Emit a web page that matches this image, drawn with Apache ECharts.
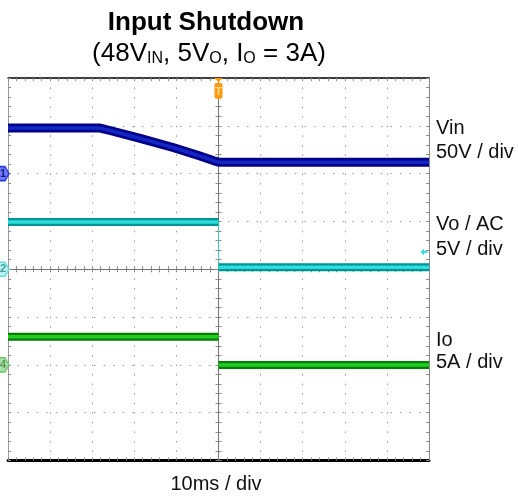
<!DOCTYPE html>
<html><head><meta charset="utf-8">
<script src="https://cdn.jsdelivr.net/npm/echarts@6/dist/echarts.min.js"></script>
<style>html,body{margin:0;padding:0;background:#fff}#c{width:518px;height:498px}</style>
</head><body><div id="c"></div>
<script>
// ---- data (time in ms, 10 ms/div, trigger at 0) ----
const vinTime  = [-50, -28.1, -25.8, -18.6, -10.8, -4.4, -1.1, 0, 50];
const vinVolts = [47.6, 47.6, 45.1, 36.8, 27.3, 18.4, 13.5, 12.0, 12.0];
const voTime   = [-50, 0, 0, 50];
const voVolts  = [4.95, 4.95, 0.2, 0.2];
const ioTime   = [-50, 0, 0, 50];
const ioAmps   = [2.95, 2.95, 0.0, 0.0];
const voTrigLevel = 1.8;
// channel scale (units/div) and ground position (div from centre)
const vinScale = 50, voScale = 5, ioScale = 5;
const vinOffset = 2, voOffset = 0, ioOffset = -2;
const titleText = 'Input Shutdown';
const rightLabels = ['Vin', '50V / div', 'Vo / AC', '5V / div', 'Io', '5A / div'];
const xLabel = '10ms / div';

const FONT = '"Liberation Sans", Arial, Helvetica, sans-serif';

function toDiv(t, v, scale, off, gapAtSteps) {
  const out = [];
  for (let i = 0; i < t.length; i++) {
    if (gapAtSteps && i > 0 && t[i] === t[i - 1]) out.push([t[i], '-']);
    out.push([t[i], off + v[i] / scale]);
  }
  return out;
}
function stepSegment(t, v, scale, off) {
  for (let i = 1; i < t.length; i++) if (t[i] === t[i - 1]) return [[t[i - 1], off + v[i - 1] / scale], [t[i], off + v[i] / scale]];
  return [];
}
const vinData = toDiv(vinTime, vinVolts, vinScale, vinOffset, false);
const voData = toDiv(voTime, voVolts, voScale, voOffset, true);
const ioData = toDiv(ioTime, ioAmps, ioScale, ioOffset, true);
const voStep = stepSegment(voTime, voVolts, voScale, voOffset);

const hidden = {axisLabel: {show: false}, splitLine: {show: false}, axisTick: {show: false}, minorTick: {show: false}, axisLine: {show: false}};
function xAx(extra) { return Object.assign({type: 'value', min: -50, max: 50, interval: 10}, JSON.parse(JSON.stringify(hidden)), extra); }
function yAx(extra) { return Object.assign({type: 'value', min: -4, max: 4, interval: 1}, JSON.parse(JSON.stringify(hidden)), extra); }
const tickGray = '#8a8a8a';
const ticks = (inside) => ({show: true, inside: inside, length: 3, lineStyle: {color: tickGray, width: 1}});
const minor = {show: true, splitNumber: 5, length: 3, lineStyle: {color: tickGray, width: 1}};

const chanMarker = (y, fill, border, txt, tc) => ({
  symbol: 'path://M0,1 Q0,0 1,0 L8,0 L12,7 L8,14 L1,14 Q0,14 0,13 Z', symbolSize: [12, 14], symbolOffset: [-5, 0],
  coord: [-50, y], itemStyle: {color: fill, borderColor: border, borderWidth: 1.5},
  label: {show: true, formatter: txt, color: tc, fontSize: 11, fontWeight: 'bold', fontFamily: FONT, offset: [0, 0]}
});

const option = {
  animation: false,
  backgroundColor: '#fff',
  grid: {left: 8, right: 89, top: 78, bottom: 37.5, containLabel: false},
  xAxis: [
    xAx({position: 'bottom', axisLine: {show: true, onZero: false, lineStyle: {color: '#000', width: 3}}, axisTick: ticks(true), minorTick: minor,
         splitLine: {show: true, lineStyle: {color: '#9a9a9a', width: 1, type: [1.5, 8.05]}}}),
    xAx({position: 'top', axisLine: {show: true, onZero: false, lineStyle: {color: '#000', width: 1.5}}, axisTick: ticks(true), minorTick: minor}),
    xAx({position: 'bottom', axisLine: {show: true, onZero: true, onZeroAxisIndex: 0, lineStyle: {color: '#777', width: 1}}, axisTick: ticks(false), minorTick: minor}),
    xAx({position: 'top', axisLine: {show: true, onZero: true, onZeroAxisIndex: 0, lineStyle: {color: '#777', width: 1}}, axisTick: ticks(false), minorTick: minor})
  ],
  yAxis: [
    yAx({position: 'left', axisLine: {show: true, onZero: false, lineStyle: {color: '#999', width: 1}}, axisTick: ticks(true), minorTick: minor,
         splitLine: {show: true, lineStyle: {color: '#9a9a9a', width: 1, type: [1.5, 8.06]}}}),
    yAx({position: 'right', axisLine: {show: true, onZero: false, lineStyle: {color: '#888', width: 1}}, axisTick: ticks(true), minorTick: minor}),
    yAx({position: 'left', axisLine: {show: true, onZero: true, onZeroAxisIndex: 0, lineStyle: {color: '#777', width: 1}}, axisTick: ticks(false), minorTick: minor}),
    yAx({position: 'right', axisLine: {show: true, onZero: true, onZeroAxisIndex: 0, lineStyle: {color: '#777', width: 1}}, axisTick: ticks(false), minorTick: minor})
  ],
  series: [
    {type: 'line', name: 'Vin', data: vinData, showSymbol: false, lineStyle: {color: '#000088', width: 9}, z: 3,
     markPoint: {animation: false, data: [
       chanMarker(vinOffset, '#6f7cff', '#2a36e0', '1', '#1a1a80'),
       {coord: [0, 4], symbol: 'path://M0,0 L9,0 L4.5,4 Z M2,5 L7,5 Q8.5,5 8.5,6.5 L8.5,18.5 Q8.5,21 4.5,21 Q0.5,21 0.5,18.5 L0.5,6.5 Q0.5,5 2,5 Z',
        symbolSize: [9, 21], symbolOffset: [0, 10.5], itemStyle: {color: '#ff9a10'},
        label: {show: true, formatter: 'T', color: '#ffd890', fontSize: 11, fontWeight: 'bold', fontFamily: FONT, offset: [0, 3]}}
     ]}},
    {type: 'line', name: 'Vin core', data: vinData, showSymbol: false, lineStyle: {color: '#1226c4', width: 3.5}, z: 4, silent: true},
    {type: 'line', name: 'Vo step', data: voStep, showSymbol: false, lineStyle: {color: '#40c8c8', width: 1}, z: 3},
    {type: 'line', name: 'Vo', data: voData, showSymbol: false, connectNulls: false, lineStyle: {color: '#009494', width: 8}, z: 3,
     markPoint: {animation: false, data: [
       chanMarker(voOffset, '#b8f4f4', '#66dcdc', '2', '#4a9a9a'),
       {coord: [50, voOffset + voTrigLevel / voScale], symbol: 'path://M0,3 L4,0 L4,2 L8,2 L8,4 L4,4 L4,6 Z', symbolSize: [7, 7], symbolOffset: [-5, 0],
        itemStyle: {color: '#40dcdc'}, label: {show: false}}
     ]}},
    {type: 'line', name: 'Vo core', data: voData, showSymbol: false, connectNulls: false, lineStyle: {color: '#2ddcdc', width: 3.5}, z: 4},
    {type: 'line', name: 'Io', data: ioData, showSymbol: false, connectNulls: false, lineStyle: {color: '#007f00', width: 8}, z: 3,
     markPoint: {animation: false, data: [chanMarker(ioOffset, '#a8e0a8', '#70c870', '4', '#5a9a5a')]}},
    {type: 'line', name: 'Io core', data: ioData, showSymbol: false, connectNulls: false, lineStyle: {color: '#22cc22', width: 3.5}, z: 4}
  ],
  graphic: [
    {type: 'text', style: {text: titleText, x: 206, y: 23, font: 'bold 26px ' + FONT, fill: '#000', align: 'center', textAlign: 'center', verticalAlign: 'middle', textVerticalAlign: 'middle'}},
    {type: 'text', style: {text: '{m|(48V}{s|IN}{m|, 5V}{s|O}{m|, I}{s|O}{m| = 3A)}', x: 209, y: 52, align: 'center', textAlign: 'center', verticalAlign: 'middle', textVerticalAlign: 'middle',
      rich: {m: {fontSize: 26, fontFamily: FONT, fill: '#000', lineHeight: 30, verticalAlign: 'bottom'},
             s: {fontSize: 16, fontFamily: FONT, fill: '#000', lineHeight: 23, verticalAlign: 'bottom'}}}},
    {type: 'text', style: {text: rightLabels[0], x: 436, y: 128, font: '20px ' + FONT, fill: '#111', align: 'left', textAlign: 'left', verticalAlign: 'middle', textVerticalAlign: 'middle'}},
    {type: 'text', style: {text: rightLabels[1], x: 436, y: 152.5, font: '20px ' + FONT, fill: '#111', align: 'left', textAlign: 'left', verticalAlign: 'middle', textVerticalAlign: 'middle'}},
    {type: 'text', style: {text: rightLabels[2], x: 436, y: 224, font: '20px ' + FONT, fill: '#111', align: 'left', textAlign: 'left', verticalAlign: 'middle', textVerticalAlign: 'middle'}},
    {type: 'text', style: {text: rightLabels[3], x: 436, y: 249, font: '20px ' + FONT, fill: '#111', align: 'left', textAlign: 'left', verticalAlign: 'middle', textVerticalAlign: 'middle'}},
    {type: 'text', style: {text: rightLabels[4], x: 436, y: 340, font: '20px ' + FONT, fill: '#111', align: 'left', textAlign: 'left', verticalAlign: 'middle', textVerticalAlign: 'middle'}},
    {type: 'text', style: {text: rightLabels[5], x: 436, y: 362.5, font: '20px ' + FONT, fill: '#111', align: 'left', textAlign: 'left', verticalAlign: 'middle', textVerticalAlign: 'middle'}},
    {type: 'text', style: {text: xLabel, x: 216, y: 484, font: '20px ' + FONT, fill: '#111', align: 'center', textAlign: 'center', verticalAlign: 'middle', textVerticalAlign: 'middle'}}
  ]
};
const chart = echarts.init(document.getElementById('c'), null, {renderer: 'canvas'});
chart.setOption(option);
</script>
</body></html>
